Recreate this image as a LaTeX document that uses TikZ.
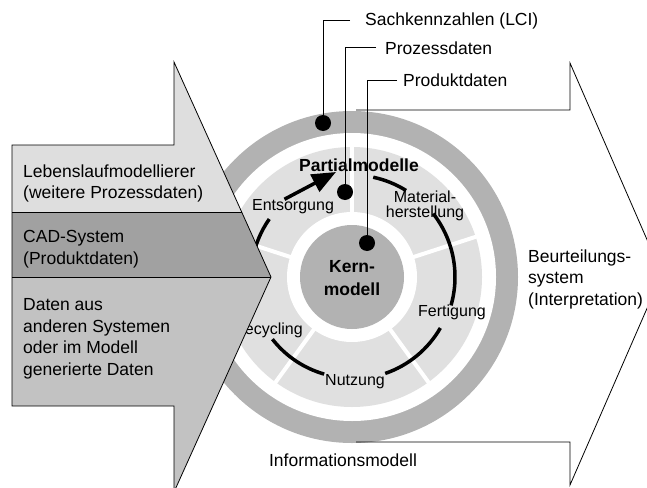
\documentclass[tikz,border=0pt]{standalone}
\usepackage{fontspec}
\setmainfont{Liberation Sans}
\usetikzlibrary{arrows.meta}
\definecolor{ringgray}{gray}{0.70}
\definecolor{partgray}{gray}{0.88}
\definecolor{bandlight}{gray}{0.87}
\definecolor{banddark}{gray}{0.63}
\definecolor{bandmid}{gray}{0.76}

\begin{document}
\begin{tikzpicture}[x=1pt,y=1pt,
   lbl/.style={font=\fontsize{17.5}{21.5}\selectfont,inner sep=0pt,align=left},
   rlbl/.style={font=\fontsize{16}{15}\selectfont,inner sep=0pt,align=center},
   dot/.style={circle,fill=black,inner sep=0pt,minimum size=16pt},
   cyc/.style={line width=3.5pt}]
\useasboundingbox (0,0) rectangle (647,-487);
\clip (0,0) rectangle (647,-487);
\coordinate (c) at (352,-277);

   \fill[ringgray] (c) circle[radius=166];
   \fill[white] (c) circle[radius=144];
   \fill[partgray] (c) circle[radius=130];
   \foreach \a in {90,18,-54,-126,162}
      \draw[white,line width=4pt] (c) ++(\a:60) -- ++(\a:75);
   \fill[white] (c) circle[radius=65];
   \fill[ringgray] (c) circle[radius=52];

   \draw[cyc] (c) ++(78:102) arc[start angle=78,end angle=58,radius=102];
   \draw[cyc] (c) ++(38:103) arc[start angle=38,end angle=-16,radius=103];
   \draw[cyc] (c) ++(-30:102) arc[start angle=-30,end angle=-71,radius=102];
   \draw[cyc] (c) ++(-106:101) arc[start angle=-106,end angle=-142,radius=101];
   \draw[cyc] (c) ++(170:101) arc[start angle=170,end angle=145,radius=101];
   \coordinate (pm) at (336,-172);
   \draw[cyc,-{Triangle[length=24pt,width=19pt]}] (c) ++(131:103) -- (pm);

   \draw (359,-165) node[rlbl,font=\fontsize{17.5}{21}\selectfont\bfseries] (partial) {Partialmodelle};
   \draw (352,-278) node[rlbl,font=\fontsize{17.5}{23}\selectfont\bfseries] (kern) {Kern-\\modell};
   \draw (293,-207) node[rlbl] (entsorgung) {Entsorgung};
   \draw (425,-206) node[rlbl] (material) {Material-\\herstellung};
   \draw (452,-312) node[rlbl] (fertigung) {Fertigung};
   \draw (355,-382) node[rlbl] (nutzung) {Nutzung};
   \draw (303,-330) node[rlbl,anchor=east] (recycling) {Recycling};

   \draw (365,-21) node[lbl,anchor=west] (lci) {Sachkennzahlen (LCI)};
   \draw (385,-48) node[lbl,anchor=west] (proz) {Prozessdaten};
   \draw (403,-80) node[lbl,anchor=west] (prod) {Produktdaten};
   \draw (323,-123) node[dot] (dlci) {};
   \draw (345,-192) node[dot] (dproz) {};
   \draw (367,-243) node[dot] (dprod) {};

      \draw[line width=1pt] ([xshift=-15pt]lci.west) -| (dlci);
      \draw[line width=1pt] ([xshift=-9pt]proz.west) -| (dproz);
      \draw[line width=1pt] ([xshift=-6pt]prod.west) -| (dprod);

   \draw[line width=0.8pt] (356,-110) -- (570,-110) -- (570,-63) -- (662,-274)
      -- (570,-485) -- (570,-442) -- (356,-442);
   \draw (528,-279) node[lbl,anchor=west] (beurteilung) {Beurteilungs-\\system\\(Interpretation)};
   \draw (343,-460) node[lbl] (info) {Informationsmodell};

   \begin{scope}
      \clip (12,-145) -- (174,-145) -- (174,-62) -- (271,-277) -- (174,-492)
         -- (174,-406) -- (12,-406) -- cycle;
      \fill[bandlight] (0,0) rectangle (300,-212);
      \fill[banddark] (0,-212) rectangle (300,-277);
      \fill[bandmid] (0,-277) rectangle (300,-500);
      \draw[line width=0.8pt] (0,-212) -- (300,-212);
      \draw[line width=0.8pt] (0,-277) -- (300,-277);
   \end{scope}
   \draw[line width=0.8pt] (12,-145) -- (174,-145) -- (174,-62) -- (271,-277) -- (174,-492)
      -- (174,-406) -- (12,-406) -- cycle;

   \draw (23,-183.5) node[lbl,anchor=west] (lebenslauf) {Lebenslaufmodellierer\\(weitere Prozessdaten)};
   \draw (23,-249) node[lbl,anchor=west] (cad) {CAD-System\\(Produktdaten)};
   \draw (23,-339) node[lbl,anchor=west] (daten) {Daten aus\\anderen Systemen\\oder im Modell\\generierte Daten};

\end{tikzpicture}
\end{document}
